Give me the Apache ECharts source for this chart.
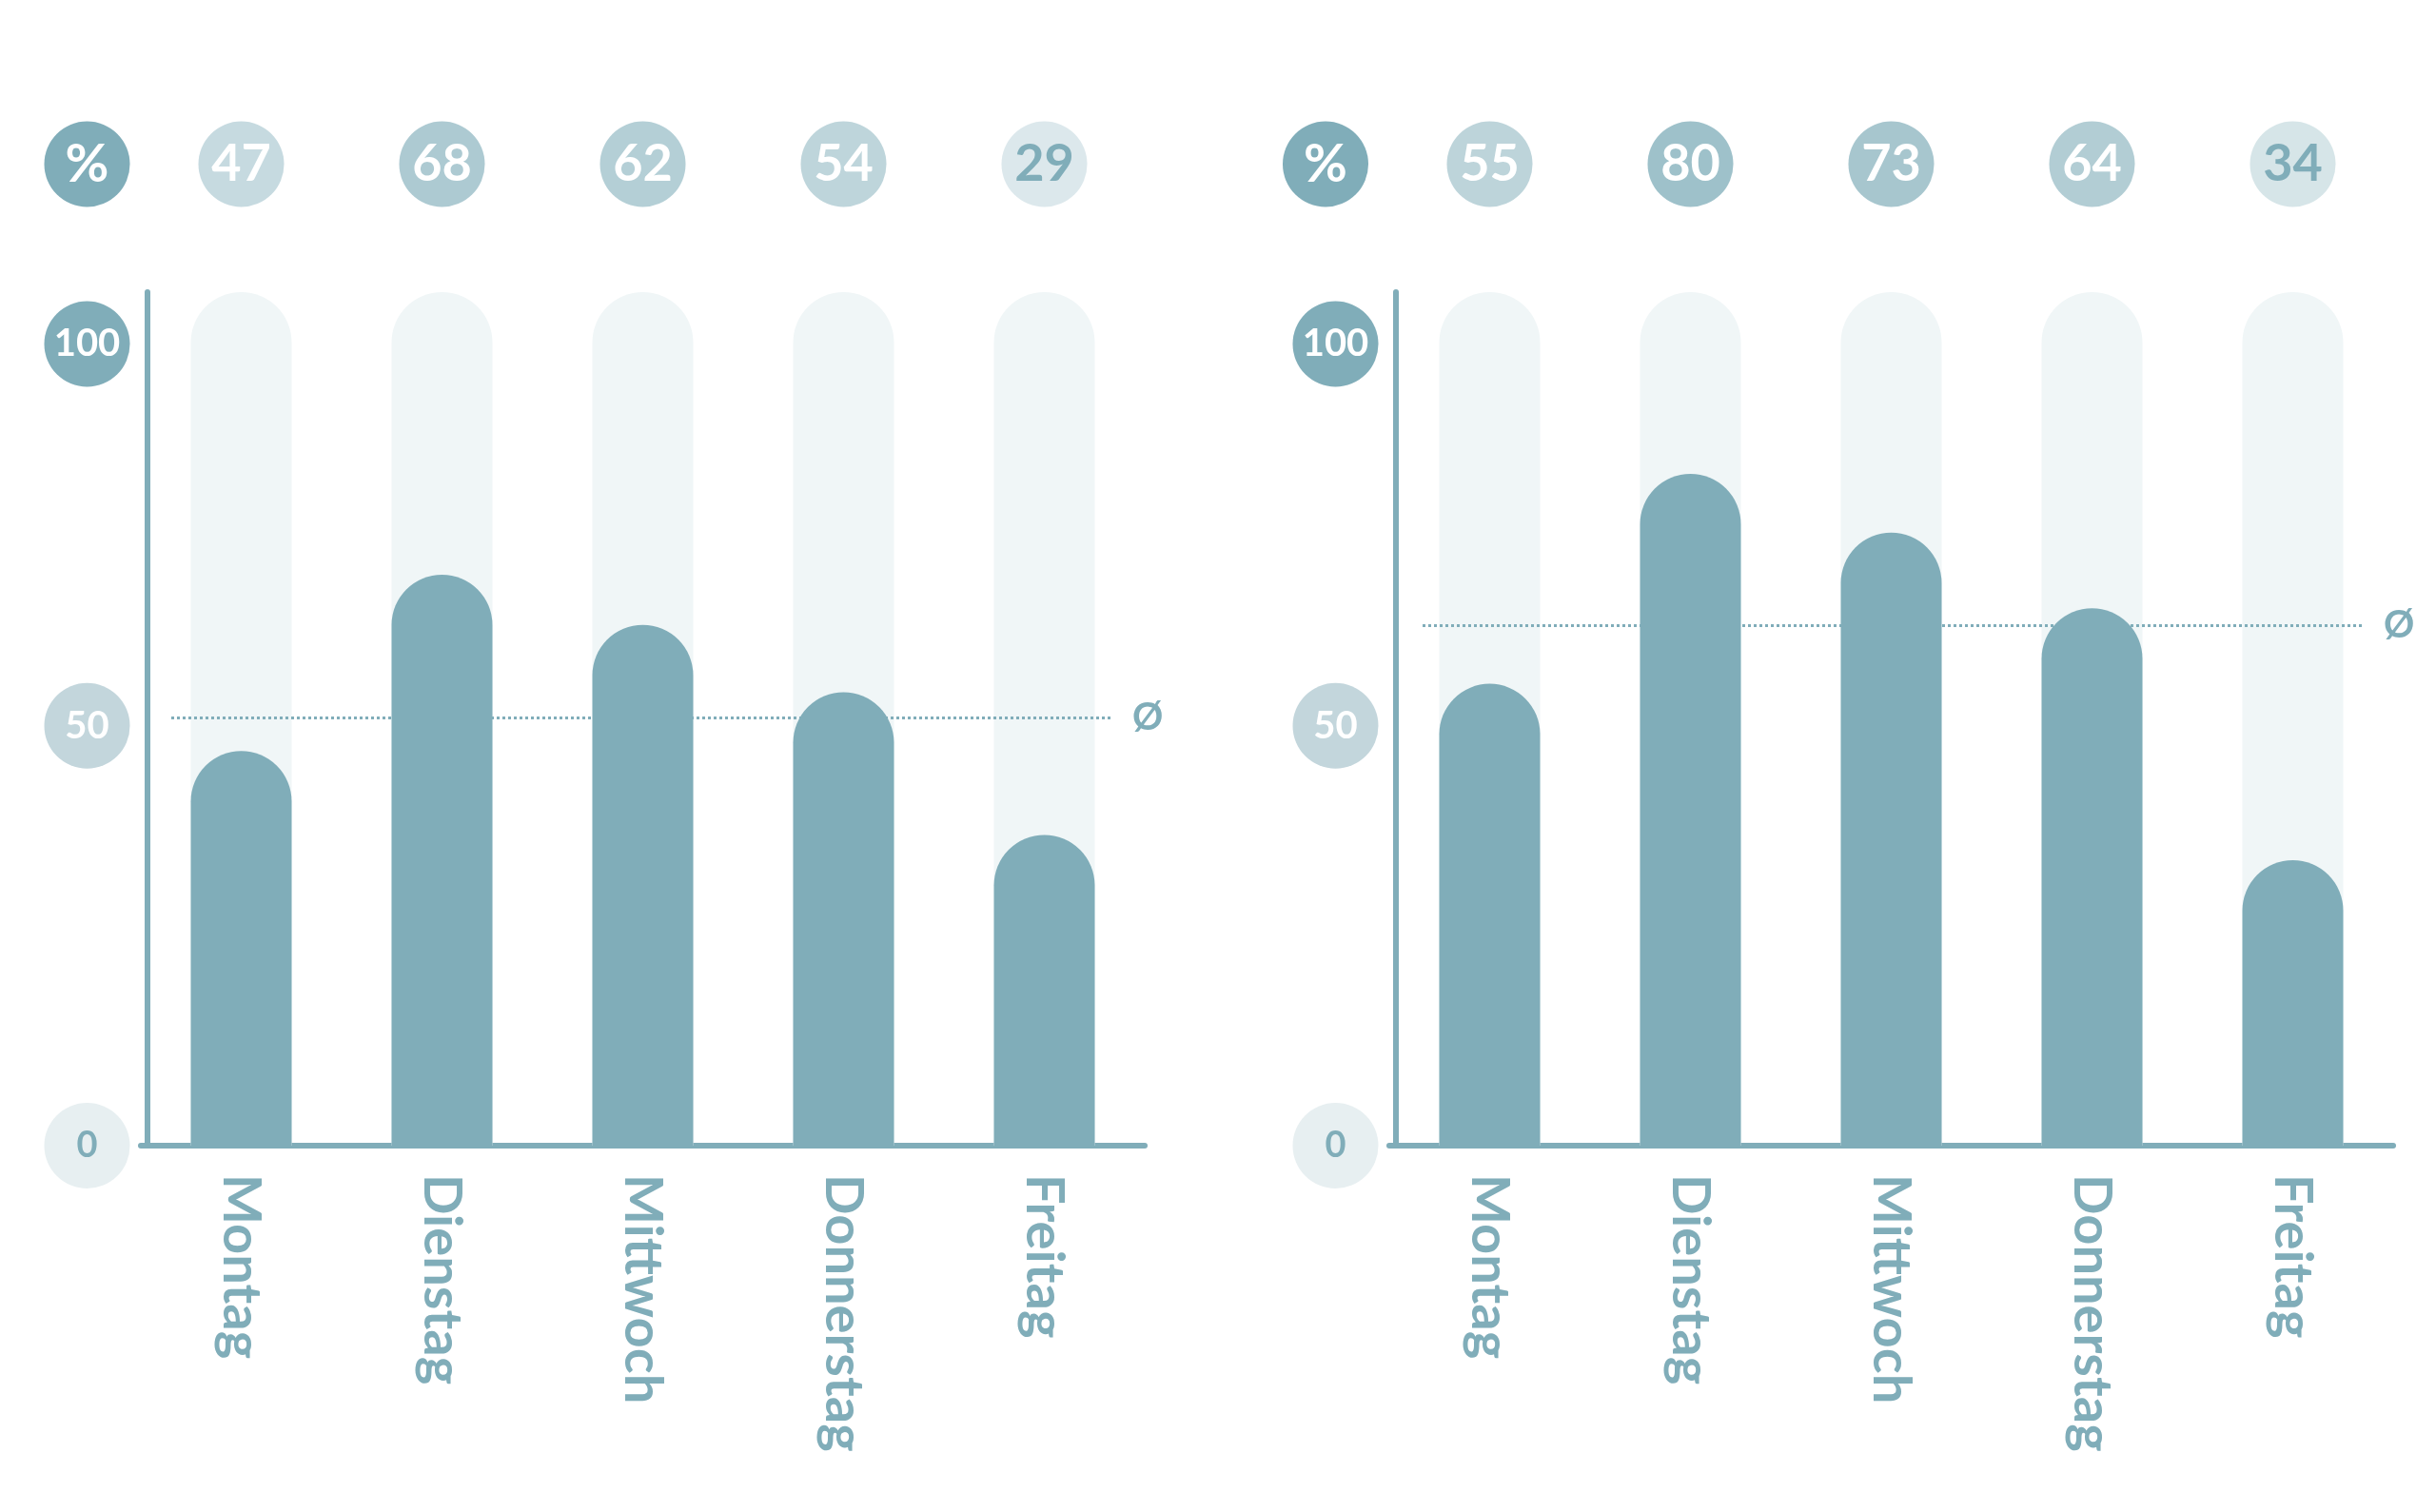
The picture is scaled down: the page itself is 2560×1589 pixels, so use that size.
<!DOCTYPE html>
<html><head><meta charset="utf-8">
<script src="https://cdn.jsdelivr.net/npm/echarts@6/dist/echarts.min.js"></script>
<style>html,body{margin:0;padding:0;background:#fff}#c{width:2560px;height:1589px}</style>
</head><body><div id="c"></div>
<script>
// ---- data ----
const categories = ['Montag', 'Dienstag', 'Mittwoch', 'Donnerstag', 'Freitag'];
const leftShown = [47, 68, 62, 54, 29];      // numbers in the top circles (left)
const leftBars = [47, 68, 62, 54, 37];       // bar heights as drawn (left)
const rightShown = [55, 80, 73, 64, 34];     // numbers in the top circles (right)
const rightBars = [55, 80, 73, 64, 34];      // bar heights as drawn (right)
const leftAverage = 51;
const rightAverage = 62;
const yTickLabels = [0, 50, 100];
const unitLabel = '%';
const averageSymbol = 'Ø';

// ---- style ----
const TEAL = '#80adb9';
const FONT = 'Lato';
const Y_MAX = 101.64;
const GRID_TOP = 307, GRID_BOTTOM = 385;

function circle(bg, color, size, weight) {
  return { width: 90, height: 90, lineHeight: 90, borderRadius: 45, backgroundColor: bg,
           color: color, fontSize: size, fontWeight: weight || 'bold', fontFamily: FONT, align: 'center' };
}

const tickStyles = {
  0: circle('#e7eff1', TEAL, 38, 'bold'),
  50: circle('#c3d6dc', '#fff', 40),
  100: circle(TEAL, '#fff', 40)
};

function panel(p, shown, bars, avg, dx, avgDx, pctPad) {
  const g = p * 2;
  const richTop = {};
  shown.forEach((v, i) => {
    richTop['c' + i] = circle('rgba(128,173,185,' + (v / 100 * 0.95).toFixed(3) + ')',
                              v < 40 ? TEAL : '#fff', 54);
  });
  const richY = { sp: { height: 80, lineHeight: 80, width: 10, fontSize: 10 } };
  yTickLabels.forEach(t => { richY['t' + t] = tickStyles[t]; });

  return {
    grid: [
      { left: 148 + dx, width: 1055, top: GRID_TOP, bottom: GRID_BOTTOM, outerBoundsMode: 'none' },
      { left: 180 + avgDx, width: 990, top: GRID_TOP, bottom: GRID_BOTTOM, outerBoundsMode: 'none' }
    ],
    xAxis: [
      { gridIndex: g, type: 'category', data: categories,
        axisLine: { lineStyle: { color: TEAL, width: 6, cap: 'round' } },
        axisTick: { show: false },
        axisLabel: { interval: 0, rotate: -90, margin: 30, color: TEAL, fontFamily: FONT,
                     fontSize: 56, fontWeight: 'bold' } },
      { gridIndex: g, type: 'category', position: 'top', data: shown.map(String),
        axisLine: { show: false }, axisTick: { show: false },
        axisLabel: { interval: 0, margin: 134.5, verticalAlign: 'middle',
                     formatter: (v, i) => '{c' + i + '|' + v + '}', rich: richTop } },
      { gridIndex: g + 1, type: 'category', data: categories, show: false }
    ],
    yAxis: [
      { gridIndex: g, type: 'value', min: 0, max: Y_MAX, interval: 50, offset: -7,
        axisLine: { show: true, lineStyle: { color: TEAL, width: 6, cap: 'round' } },
        axisTick: { show: false }, splitLine: { show: false },
        axisLabel: { margin: 18.5, showMaxLabel: false,
          formatter: v => {
            if (yTickLabels.indexOf(v) < 0) return '';
            const s = '{t' + v + '|' + v + '}';
            return v === 100 ? '{sp| }\n' + s : s;
          }, rich: richY },
        name: '{p|' + unitLabel + '}', nameLocation: 'end', nameGap: 134.5,
        nameTextStyle: { align: 'center', verticalAlign: 'middle', padding: [0, pctPad, 0, 0],
                         rich: { p: circle(TEAL, '#fff', 56) } } },
      { gridIndex: g + 1, type: 'value', min: 0, max: Y_MAX, show: false }
    ],
    series: [
      { type: 'bar', xAxisIndex: p * 3, yAxisIndex: p * 2, data: bars, barWidth: 106,
        showBackground: true,
        backgroundStyle: { color: '#f0f6f7', borderRadius: [53, 53, 0, 0] },
        itemStyle: { color: TEAL, borderRadius: [53, 53, 0, 0] }, silent: true },
      { type: 'line', xAxisIndex: p * 3 + 2, yAxisIndex: p * 2 + 1, data: [], silent: true,
        markLine: { silent: true, symbol: 'none', animation: false,
          data: [{ yAxis: avg }],
          lineStyle: { color: TEAL, width: 3, type: [3, 3] },
          label: { position: 'end', formatter: averageSymbol, distance: 20, color: TEAL,
                   fontFamily: FONT, fontSize: 40, fontWeight: 'bold' } } }
    ]
  };
}

const a = panel(0, leftShown, leftBars, leftAverage, 0, 0, 127);
const b = panel(1, rightShown, rightBars, rightAverage, 1312, 1315, 148);

const chart = echarts.init(document.getElementById('c'), null, { renderer: 'canvas' });
chart.setOption({
  animation: false,
  backgroundColor: '#fff',
  grid: a.grid.concat(b.grid),
  xAxis: a.xAxis.concat(b.xAxis),
  yAxis: a.yAxis.concat(b.yAxis),
  series: a.series.concat(b.series)
});
</script></body></html>
